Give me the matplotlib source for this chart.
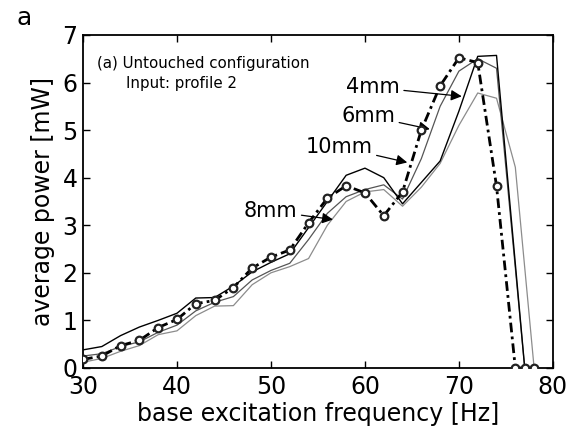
import matplotlib
matplotlib.use('Agg')
import matplotlib.pyplot as plt
import numpy as np

plt.rcParams['font.family'] = ['DejaVu Sans']

# frequency [Hz] / average power [mW]
f_4mm = [30, 32, 34, 36, 38, 40, 42, 44, 46, 48, 50, 52, 54, 56, 58, 60, 62, 64, 66, 68, 70, 72, 74, 77]
p_4mm = [0.38, 0.45, 0.68, 0.86, 1.0, 1.15, 1.47, 1.48, 1.72, 2.02, 2.22, 2.4, 2.95, 3.5, 4.05, 4.2, 4.0, 3.45, 3.9, 4.35, 5.4, 6.55, 6.57, 0.0]

f_dark = [30, 32, 34, 36, 38, 40, 42, 44, 46, 48, 50, 52, 54, 56, 58, 60, 62, 64, 66, 68, 70, 72, 74, 77]
p_dark = [0.25, 0.3, 0.45, 0.55, 0.75, 0.9, 1.2, 1.38, 1.5, 1.85, 2.05, 2.2, 2.7, 3.25, 3.6, 3.75, 3.85, 3.55, 4.4, 5.5, 6.24, 6.5, 6.3, 0.0]

f_light = [30, 32, 34, 36, 38, 40, 42, 44, 46, 48, 50, 52, 54, 56, 58, 60, 62, 64, 66, 68, 70, 72, 74, 76, 78]
p_light = [0.12, 0.2, 0.35, 0.47, 0.7, 0.78, 1.1, 1.3, 1.31, 1.75, 2.0, 2.13, 2.3, 3.0, 3.5, 3.7, 3.75, 3.4, 3.8, 4.3, 5.1, 5.78, 5.67, 4.22, 0.0]

f_dd = [30, 32, 34, 36, 38, 40, 42, 44, 46, 48, 50, 52, 54, 56, 58, 60, 62, 64, 66, 68, 70, 72, 74, 76, 77, 78]
p_dd = [0.18, 0.25, 0.47, 0.58, 0.85, 1.02, 1.35, 1.42, 1.69, 2.1, 2.33, 2.48, 3.05, 3.57, 3.83, 3.68, 3.2, 3.7, 5.0, 5.93, 6.52, 6.42, 3.82, 0.0, 0.0, 0.0]

# label text, tail (text end) and arrow tip, data coords
lbl = ['4mm', '6mm', '10mm', '8mm']
lbl_tail = [(63.7, 5.9), (63.2, 5.3), (60.8, 4.65), (52.8, 3.3)]
lbl_tip = [(70.3, 5.71), (66.9, 5.02), (64.5, 4.32), (56.6, 3.12)]

fig = plt.figure(figsize=(5.78, 4.37), dpi=100)
ax = fig.add_axes([0.1436, 0.158, 0.813, 0.762])

ax.plot(f_light, p_light, color='#8c8c8c', lw=0.9)
ax.plot(f_dark, p_dark, color='#555555', lw=0.9)
ax.plot(f_4mm, p_4mm, color='black', lw=1.0)
ax.plot(f_dd, p_dd, color='black', lw=2.0, linestyle=(0, (3.5, 1.5, 1.0, 1.5)),
        marker='o', ms=5.5, mfc='white', mec='#222222', mew=1.6, zorder=5)

for t, tail, tip in zip(lbl, lbl_tail, lbl_tip):
    ax.annotate(t, xy=tip, xytext=tail, ha='right', va='center', fontsize=15,
                arrowprops=dict(arrowstyle='-|>', color='black', lw=0.9,
                                mutation_scale=16, shrinkA=1, shrinkB=0))

ax.text(0.03, 0.915, '(a) Untouched configuration', transform=ax.transAxes,
        fontsize=10.8, va='center')
ax.text(0.092, 0.855, 'Input: profile 2', transform=ax.transAxes,
        fontsize=10.8, va='center')

ax.set_xlim(30, 80)
ax.set_ylim(0, 7)
ax.set_xticks(np.arange(30, 81, 10))
ax.set_yticks(np.arange(0, 8, 1))
ax.tick_params(direction='in', top=True, right=True, length=5, width=1,
               labelsize=17, pad=4)
ax.tick_params(axis='x', pad=5)
for s in ax.spines.values():
    s.set_linewidth(1.3)

ax.set_xlabel('base excitation frequency [Hz]', fontsize=17, labelpad=2)
ax.set_ylabel('average power [mW]', fontsize=17, labelpad=5)

fig.text(0.042, 0.958, 'a', fontsize=18, ha='center', va='center')

fig.savefig('out.png', dpi=100)
